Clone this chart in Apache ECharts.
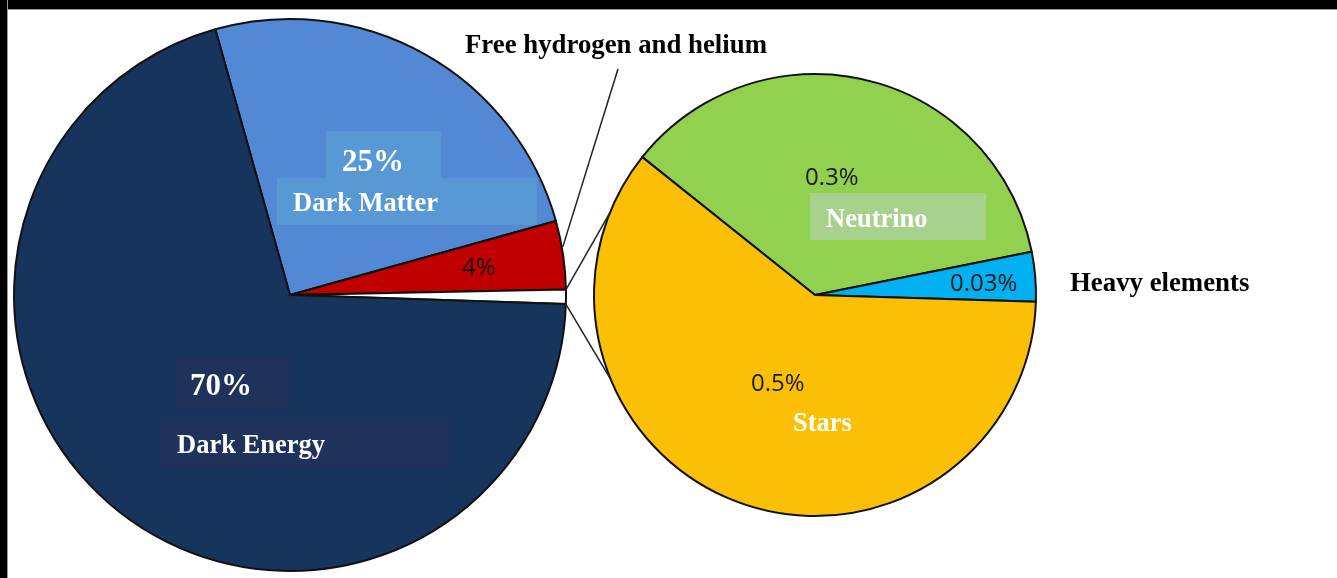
<!DOCTYPE html>
<html><head><meta charset="utf-8">
<script src="https://cdn.jsdelivr.net/npm/echarts@6/dist/echarts.min.js"></script>
<style>
html,body{margin:0;padding:0;background:#fff;overflow:hidden}
#chart{position:absolute;left:0;top:0;width:1337px;height:578px;background:#fff}
#topbar{position:absolute;left:0;top:0;width:1337px;height:9px;background:#000;border-bottom:1px solid #9a9a9a;z-index:5}
#leftbar{position:absolute;left:0;top:0;width:7px;height:578px;background:#000;border-right:1px solid #9a9a9a;z-index:5}
</style></head><body>
<div id="chart"></div><div id="topbar"></div><div id="leftbar"></div>
<script>
// ---- data: main pie (composition of the universe, %) ----
const mainCategories = ['Dark Matter', 'Free hydrogen and helium', 'Stars, neutrinos, heavy elements', 'Dark Energy'];
const mainValues = [25, 4, 0.83, 70];
const mainColors = ['#5389d4', '#c00000', '#ffffff', '#17355c'];
// ---- data: secondary pie (breakdown of the small slice, %) ----
const subCategories = ['Neutrino', 'Heavy elements', 'Stars'];
const subValues = [0.3, 0.03, 0.5];
const subColors = ['#92d050', '#00b0f0', '#fbbf06'];

// ---- layout ----
const mainCenter = [290, 295], mainR = 276, mainStart = 105.7;
const subCenter = [815, 295], subR = 221, subStart = 141.4;
const SERIF = 'Liberation Serif', SANS = 'Open Sans';

const wSerif = (size, extra) => Object.assign({ fontFamily: SERIF, fontWeight: 'bold', fontSize: size, color: '#ffffff' }, extra || {});
const sansTxt = (lh, extra) => Object.assign({ fontFamily: SANS, fontSize: 24, color: '#1a1a1a', height: lh, lineHeight: lh }, extra || {});
const sp = (w, h) => ({ width: w, height: h, lineHeight: h, fontSize: 8 });
const box = (w, h, bg, extra) => Object.assign({ width: w, height: h, lineHeight: h, backgroundColor: bg, fontSize: 8 }, extra || {});
// text box whose glyphs sit lower in the box by `down` px
const tbox = (w, h, bg, down, font) => Object.assign({ width: w, height: h - 2 * down, lineHeight: h, padding: [2 * down, 0, 0, 0], backgroundColor: bg }, font);
const pct = v => v + '%';

const mainLabels = [
  { pos: [277, 131],
    formatter: '{s| }{b| }{p|' + pct(mainValues[0]) + '}\n{b| }{n|' + mainCategories[0] + '}',
    rich: { s: sp(49, 47), b: box(16, 47, '#5898d4'),
            p: tbox(99, 47, '#5898d4', 8, wSerif(31)), n: tbox(244, 47, '#5898d4', 3, wSerif(26.5)) } },
  { pos: [462, 31], outside: true,
    formatter: '{s| }{n|' + mainCategories[1] + '}\n{p|' + pct(mainValues[1]) + '}',
    rich: { s: sp(3, 30), n: wSerif(26.8, { color: '#000', height: 30, lineHeight: 30 }),
            p: sansTxt(414, { color: '#111' }) } },
  null,
  { pos: [160, 355],
    formatter: '{s| }{b| }{p|' + pct(mainValues[3]) + '}\n{g| }\n{c| }{n|' + mainCategories[3] + '}',
    rich: { s: sp(15, 53), b: box(15, 53, '#1f3259'), p: tbox(100, 53, '#1f3259', 5, wSerif(31)),
            g: sp(10, 10), c: box(17, 49, '#1f3259'), n: tbox(273, 49, '#1f3259', 4, wSerif(26.5)) } }
];
const subLabels = [
  { pos: [805, 164],
    formatter: '{p|' + pct(subValues[0]) + '}\n{s| }{b| }{n|' + subCategories[0] + '}',
    rich: { p: sansTxt(29), s: sp(5, 47), b: box(16, 47, '#a9d18e'), n: tbox(160, 47, '#a9d18e', 4, wSerif(26.5)) } },
  { pos: [950, 267],
    formatter: '{p|' + pct(subValues[1]) + '}{n|' + subCategories[1] + '}',
    rich: { p: sansTxt(34, { width: 120 }), n: wSerif(26.8, { color: '#000', height: 34, lineHeight: 34 }) } },
  { pos: [751, 364],
    formatter: '{p|' + pct(subValues[2]) + '}\n{s| }{n|' + subCategories[2] + '}',
    rich: { p: sansTxt(40), s: sp(42, 40), n: wSerif(26.5, { height: 40, lineHeight: 40 }) } }
];

function buildData(cats, vals, cols, labels) {
  return cats.map((n, i) => {
    const L = labels[i];
    return {
      name: n, value: vals[i], itemStyle: { color: cols[i] },
      label: L ? { show: true, position: L.outside ? 'outside' : 'inside', formatter: L.formatter, rich: L.rich, overflow: 'none' }
               : { show: false },
      labelLine: { show: !!(L && L.outside), lineStyle: { color: '#222', width: 1.5 } }
    };
  });
}

const polar = (c, r, deg) => [c[0] + r * Math.cos(deg * Math.PI / 180), c[1] - r * Math.sin(deg * Math.PI / 180)];

// angles of the small (white) slice of the main pie, derived from data
const mainTotal = mainValues.reduce((a, b) => a + b, 0);
const smallStart = mainStart - 360 * (mainValues[0] + mainValues[1]) / mainTotal;
const smallEnd = smallStart - 360 * mainValues[2] / mainTotal;
const p1 = polar(mainCenter, mainR, smallStart), p2 = polar(mainCenter, mainR, smallEnd);
const q1 = polar(subCenter, subR, 158.2), q2 = polar(subCenter, subR, 202.5);
const leaderStart = polar(mainCenter, mainR + 1, 10), leaderEnd = [618, 69];

function layoutFor(labels) {
  return function (params) {
    const L = labels[params.dataIndex];
    if (!L) return {};
    const o = { x: L.pos[0], y: L.pos[1], align: 'left', verticalAlign: 'top' };
    if (L.outside) o.labelLinePoints = [leaderStart, leaderEnd];
    return o;
  };
}

const chart = echarts.init(document.getElementById('chart'), null, { renderer: 'canvas' });
chart.setOption({
  backgroundColor: '#ffffff',
  animation: false,
  graphic: [
    { type: 'line', z: 10, shape: { x1: p1[0], y1: p1[1], x2: q1[0], y2: q1[1] }, style: { stroke: '#222', lineWidth: 1.5 } },
    { type: 'line', z: 10, shape: { x1: p2[0], y1: p2[1], x2: q2[0], y2: q2[1] }, style: { stroke: '#222', lineWidth: 1.5 } }
  ],
  series: [
    { type: 'pie', center: mainCenter, radius: mainR, startAngle: mainStart, clockwise: true,
      avoidLabelOverlap: false, silent: true, emphasis: { disabled: true },
      itemStyle: { borderColor: '#111', borderWidth: 2 },
      label: { overflow: 'none' },
      labelLayout: layoutFor(mainLabels),
      data: buildData(mainCategories, mainValues, mainColors, mainLabels) },
    { type: 'pie', center: subCenter, radius: subR, startAngle: subStart, clockwise: true,
      avoidLabelOverlap: false, silent: true, emphasis: { disabled: true },
      itemStyle: { borderColor: '#111', borderWidth: 2 },
      label: { overflow: 'none' },
      labelLayout: layoutFor(subLabels),
      data: buildData(subCategories, subValues, subColors, subLabels) }
  ]
});
</script></body></html>
